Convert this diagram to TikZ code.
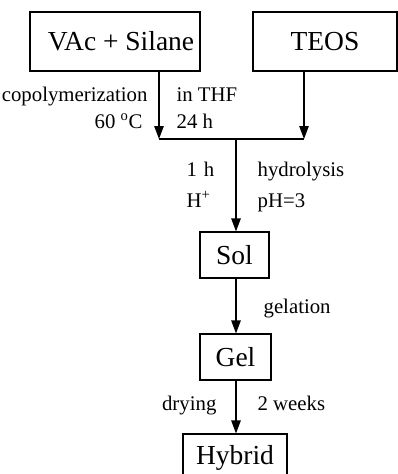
\documentclass[tikz,border=0pt]{standalone}
\usepackage{fontspec}
\setmainfont{Liberation Serif}
\usetikzlibrary{arrows.meta}

\tikzset{
	box/.style={draw, inner sep=0pt, font=\fontsize{27.5}{31}\selectfont},
	lab/.style={inner sep=0pt, font=\fontsize{20.8}{24}\selectfont},
	flow/.style={-{Triangle[width=9.5pt,length=13pt]}}
}

\begin{document}
\begin{tikzpicture}[x=1pt, y=-1pt, line width=1.2pt]
\useasboundingbox (0,0) rectangle (398,474);

\node[box, minimum width=170pt, minimum height=59pt] (vac) at (115,41.5) {\hspace*{12pt}VAc + Silane};
\node[box, minimum width=144pt, minimum height=59pt] (teos) at (325,41.5) {TEOS};
\node[box, minimum width=69pt, minimum height=46pt] (sol) at (234.5,255) {Sol};
\node[box, minimum width=71pt, minimum height=46pt] (gel) at (235.5,357) {Gel};
\node[box, minimum width=104pt, minimum height=48pt] (hyb) at (235,458) {Hybrid};

\coordinate (ja) at (159,139);
\coordinate (jb) at (304,139);
\coordinate (jm) at (236,139);

\draw[flow] (ja |- vac.south)--(ja);
\draw[flow] (jb |- teos.south)--(jb);
\draw (ja)--(jb);
\draw[flow] (jm)--(jm |- sol.north);
\draw[flow] (jm |- sol.south)--(jm |- gel.north);
\draw[flow] (jm |- gel.south)--(jm |- hyb.north);

%labels
\node[lab, anchor=base east] (cp) at (148,101) {copolymerization};
\node[lab, anchor=base west] (thf) at (176,101) {in THF};
\node[lab, anchor=base east] (tc) at (143,128) {60 \textsuperscript{o}C};
\node[lab, anchor=base west] (td) at (176,128) {24 h};
\node[lab, anchor=base west] (oh) at (186,176) {1\,\,h};
\node[lab, anchor=base west] (hp) at (186,207) {H\textsuperscript{+}};
\node[lab, anchor=base west] (hy) at (257,176) {hydrolysis};
\node[lab, anchor=base west] (ph) at (257,207) {pH=3};
\node[lab, anchor=base west] (ge) at (263,313) {gelation};
\node[lab, anchor=base east] (dr) at (217,410) {drying};
\node[lab, anchor=base west] (wk) at (257,410) {2 weeks};
\end{tikzpicture}
\end{document}
